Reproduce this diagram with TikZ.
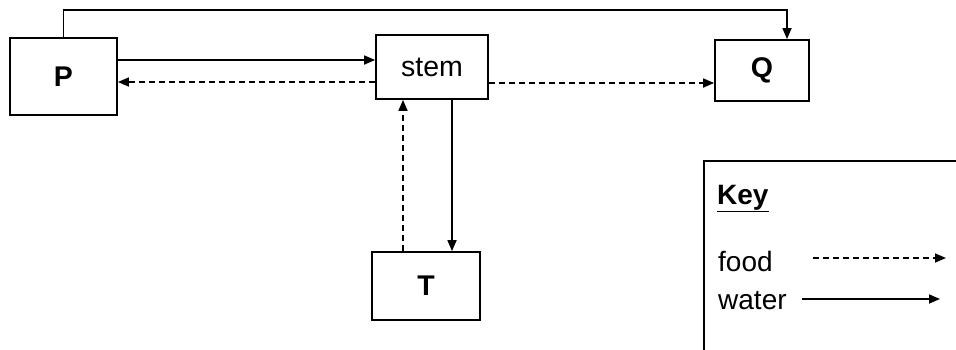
\documentclass[tikz,border=0pt]{standalone}
\usepackage{fontspec}
\setmainfont{Liberation Sans}
\usetikzlibrary{arrows.meta}
\begin{document}
\begin{tikzpicture}[x=1pt,y=-1pt,
  box/.style={draw,line width=1.8pt,inner sep=0pt,font=\fontsize{28.5}{33}\selectfont},
  water/.style={line width=1.7pt,-{Triangle[length=11pt,width=9pt]}},
  food/.style={line width=1.7pt,dash pattern=on 6pt off 4pt,-{Triangle[length=11pt,width=9pt]}},
  lbl/.style={font=\fontsize{28}{33}\selectfont,inner sep=0pt,anchor=base west}]
\clip (0,0) rectangle (956,349);
\useasboundingbox (0,0) rectangle (956,349);
\node[box,minimum width=107pt,minimum height=77pt] (P) at (63.5,76.5) {\textbf{P}};
\node[box,minimum width=112pt,minimum height=64pt] (stem) at (432,67) {stem};
\node[box,minimum width=94pt,minimum height=61pt] (Q) at (762,70.5) {\textbf{Q}};
\node[box,minimum width=108pt,minimum height=68pt] (T) at (426,286) {\textbf{T}};
% top connector
\coordinate (c1) at (63.5,10);
\coordinate (c2) at (787,10);
\draw[water] (P.north) -- (c1) -- (c2) -- (c2 |- Q.north);
% P <-> stem
\draw[water] (P.east |- 0,60) -- (stem.west |- 0,60);
\draw[food] (stem.west |- 0,82) -- (P.east |- 0,82);
% stem -> Q
\draw[food] (stem.east |- 0,83) -- (Q.west |- 0,83);
% stem <-> T
\draw[water] (stem.south -| 452,0) -- (T.north -| 452,0);
\draw[food] (T.north -| 403,0) -- (stem.south -| 403,0);
% key
\node[draw,line width=1.8pt,minimum width=300pt,minimum height=240pt,anchor=north west] (keybox) at (703,160) {};
\node[lbl] (keyt) at (717,204) {\underline{\textbf{Key}}};
\node[lbl] (foodt) at (718,271) {food};
\node[lbl] (watert) at (718,309) {water};
\coordinate (f1) at (813,258);
\coordinate (f2) at (946,258);
\coordinate (w1) at (802,299);
\coordinate (w2) at (940,299);
\draw[food] (f1) -- (f2);
\draw[water] (w1) -- (w2);
\end{tikzpicture}
\end{document}
